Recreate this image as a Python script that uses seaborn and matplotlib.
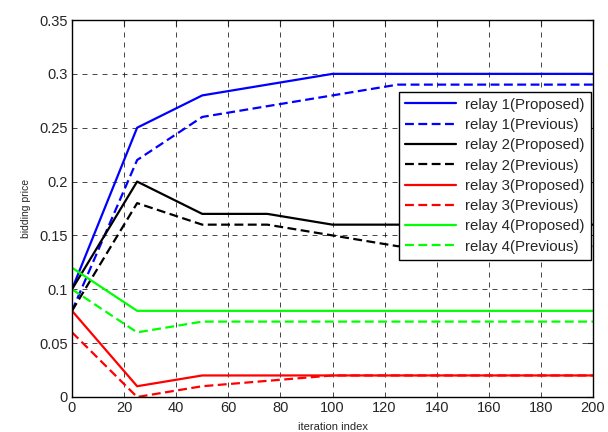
import matplotlib
matplotlib.use("Agg")
import matplotlib.pyplot as plt
import seaborn as sns
import pandas as pd
import numpy as np

iterations = [0, 25, 50, 75, 100, 125, 150, 175, 200]
relay1_proposed = [0.10, 0.25, 0.28, 0.29, 0.30, 0.30, 0.30, 0.30, 0.30]
relay1_previous = [0.08, 0.22, 0.26, 0.27, 0.28, 0.29, 0.29, 0.29, 0.29]
relay2_proposed = [0.10, 0.20, 0.17, 0.17, 0.16, 0.16, 0.16, 0.16, 0.16]
relay2_previous = [0.08, 0.18, 0.16, 0.16, 0.15, 0.14, 0.14, 0.14, 0.14]
relay3_proposed = [0.08, 0.01, 0.02, 0.02, 0.02, 0.02, 0.02, 0.02, 0.02]
relay3_previous = [0.06, 0.00, 0.01, 0.015, 0.02, 0.02, 0.02, 0.02, 0.02]
relay4_proposed = [0.12, 0.08, 0.08, 0.08, 0.08, 0.08, 0.08, 0.08, 0.08]
relay4_previous = [0.10, 0.06, 0.07, 0.07, 0.07, 0.07, 0.07, 0.07, 0.07]

labels = ["relay 1(Proposed)", "relay 1(Previous)", "relay 2(Proposed)", "relay 2(Previous)",
          "relay 3(Proposed)", "relay 3(Previous)", "relay 4(Proposed)", "relay 4(Previous)"]
series = [relay1_proposed, relay1_previous, relay2_proposed, relay2_previous,
          relay3_proposed, relay3_previous, relay4_proposed, relay4_previous]
colors = ["#0000ff", "#0000ff", "#000000", "#000000", "#ff0000", "#ff0000", "#00ff00", "#00ff00"]

rows = []
for lab, vals in zip(labels, series):
    for x, y in zip(iterations, vals):
        rows.append({"iteration": x, "price": y, "series": lab})
df = pd.DataFrame(rows)

sns.set_style("white")
plt.rcParams['font.family'] = ['Liberation Sans', 'DejaVu Sans']

fig = plt.figure(figsize=(6.08, 4.32), dpi=100)
ax = fig.add_axes([72/608, 1-397/432, (593-72)/608, (397-20)/432])

palette = dict(zip(labels, colors))
dashes = {lab: ("" if "Proposed" in lab else (4, 2)) for lab in labels}
sns.lineplot(data=df, x="iteration", y="price", hue="series", style="series",
             palette=palette, dashes=dashes, hue_order=labels, style_order=labels,
             linewidth=1.6, ax=ax, legend=True)

ax.set_xlim(0, 200)
ax.set_ylim(0, 0.35)
ax.set_xticks(np.arange(0, 201, 20))
ax.set_yticks(np.arange(0, 0.351, 0.05))
ax.set_yticklabels(["0", "0.05", "0.1", "0.15", "0.2", "0.25", "0.3", "0.35"])
ax.grid(True, color="black", linestyle=(0, (6, 6)), linewidth=0.6, alpha=0.85)
ax.tick_params(direction="in", top=True, right=True, length=4, labelsize=10.5, width=0.8, pad=3)
for sp in ax.spines.values():
    sp.set_linewidth(1.0)
    sp.set_color("black")
ax.set_xlabel("iteration index", fontsize=8, labelpad=5)
ax.set_ylabel("bidding price", fontsize=7.5, labelpad=6)

handles, labs = ax.get_legend_handles_labels()
leg = ax.legend(handles, labs, loc="upper right", bbox_to_anchor=(0.996, 0.81),
                borderaxespad=0, fontsize=10.8, handlelength=3.4, handletextpad=0.6,
                labelspacing=0.42, frameon=True, fancybox=False, borderpad=0.4,
                framealpha=1.0)
leg.get_frame().set_edgecolor("black")
leg.get_frame().set_linewidth(1.0)
for line in leg.get_lines():
    line.set_linewidth(1.6)

fig.savefig("out.png", dpi=100)
